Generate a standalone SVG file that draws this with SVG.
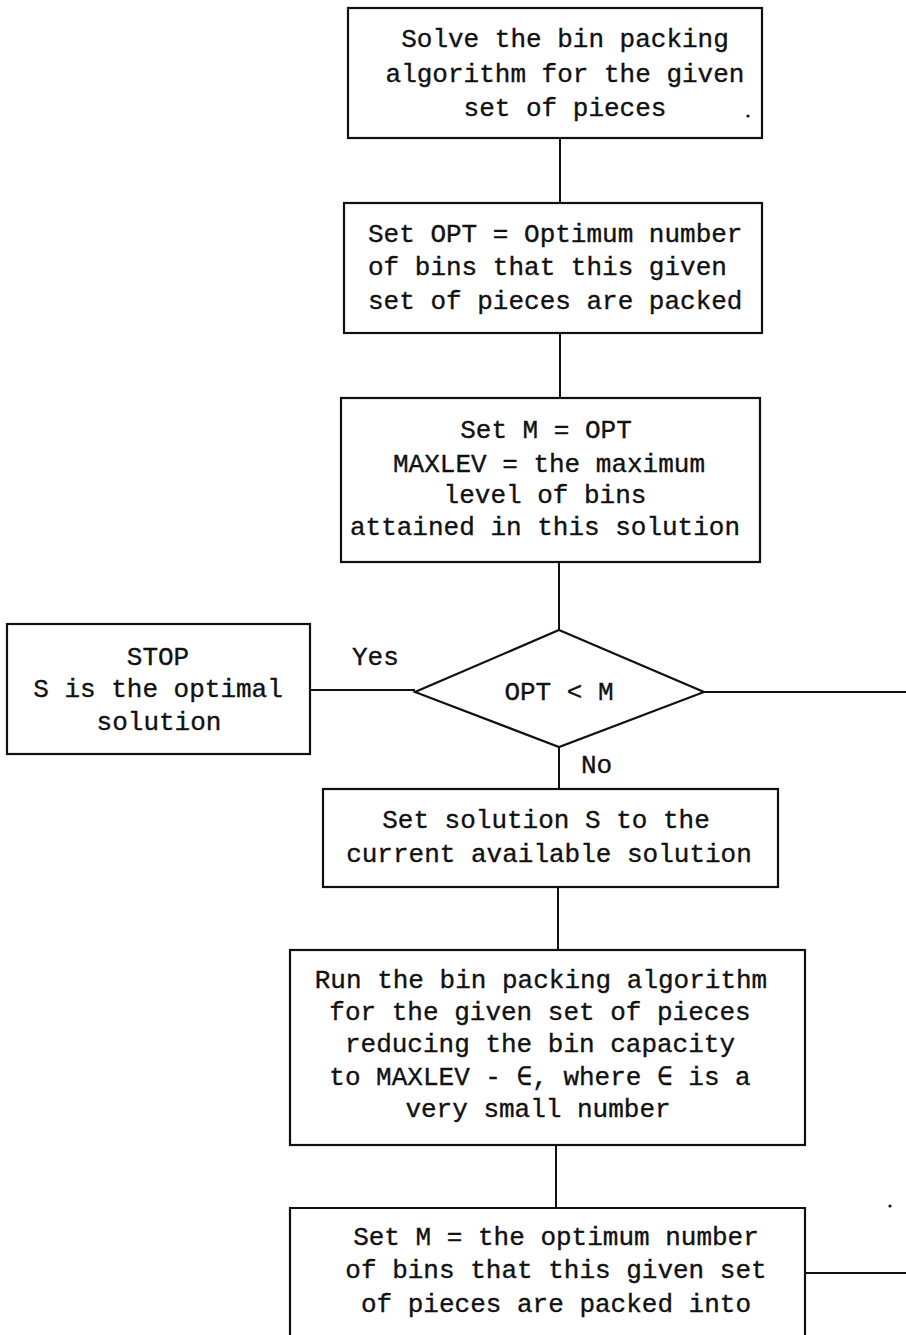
<svg xmlns="http://www.w3.org/2000/svg" width="906" height="1335" viewBox="0 0 906 1335">
  <style>
    .box { fill: none; stroke: #111; stroke-width: 2.2; }
    .wire { fill: none; stroke: #111; stroke-width: 2; }
    text { font-family: "Liberation Mono", "DejaVu Sans Mono", monospace; font-size: 26px; fill: #111; stroke: #111; stroke-width: 0.35; }
    .c { text-anchor: middle; }
  </style>
  <rect width="906" height="1335" fill="#fff"/>

  <!-- connectors -->
  <g id="connectors">
    <line class="wire" x1="560" y1="138" x2="560" y2="203"/>
    <line class="wire" x1="560" y1="333" x2="560" y2="398"/>
    <line class="wire" x1="559" y1="562" x2="559" y2="630"/>
    <line class="wire" x1="310" y1="690" x2="415" y2="690"/>
    <line class="wire" x1="704" y1="692" x2="906" y2="692"/>
    <line class="wire" x1="559" y1="747" x2="559" y2="789"/>
    <line class="wire" x1="558" y1="887" x2="558" y2="950"/>
    <line class="wire" x1="556" y1="1145" x2="556" y2="1208"/>
    <line class="wire" x1="805" y1="1273" x2="906" y2="1273"/>
    <text x="352" y="665">Yes</text>
    <text x="581" y="773">No</text>
  </g>

  <g id="solve">
    <rect class="box" x="348" y="8" width="414" height="130"/>
    <text class="c" x="565" y="47">Solve the bin packing</text>
    <text class="c" x="565" y="82">algorithm for the given</text>
    <text class="c" x="565" y="116">set of pieces</text>
    <circle cx="748" cy="116" r="1.6" fill="#111"/>
  </g>

  <g id="set-opt">
    <rect class="box" x="344" y="203" width="418" height="130"/>
    <text x="368" y="242">Set OPT = Optimum number</text>
    <text x="368" y="275">of bins that this given</text>
    <text x="368" y="309">set of pieces are packed</text>
  </g>

  <g id="set-m">
    <rect class="box" x="341" y="398" width="419" height="164"/>
    <text class="c" x="546" y="438">Set M = OPT</text>
    <text class="c" x="549" y="472">MAXLEV = the maximum</text>
    <text class="c" x="545" y="503">level of bins</text>
    <text class="c" x="545" y="535">attained in this solution</text>
  </g>

  <g id="decision">
    <polygon class="box" points="559,630 704,692 559,747 415,692"/>
    <text class="c" x="559" y="700">OPT &lt; M</text>
  </g>

  <g id="stop">
    <rect class="box" x="7" y="624" width="303" height="130"/>
    <text class="c" x="158" y="665">STOP</text>
    <text class="c" x="158" y="697">S is the optimal</text>
    <text class="c" x="159" y="730">solution</text>
  </g>

  <g id="set-solution">
    <rect class="box" x="323" y="789" width="455" height="98"/>
    <text class="c" x="546" y="828">Set solution S to the</text>
    <text class="c" x="549" y="862">current available solution</text>
  </g>

  <g id="rerun">
    <rect class="box" x="290" y="950" width="515" height="195"/>
    <text class="c" x="541" y="988">Run the bin packing algorithm</text>
    <text class="c" x="540" y="1020">for the given set of pieces</text>
    <text class="c" x="540" y="1052">reducing the bin capacity</text>
    <text class="c" x="540" y="1085">to MAXLEV - ∈, where ∈ is a</text>
    <text class="c" x="538" y="1117">very small number</text>
  </g>

  <g id="update-m">
    <path class="box" d="M290,1340 V1208 H805 V1340"/>
    <text class="c" x="556" y="1245">Set M = the optimum number</text>
    <text class="c" x="556" y="1278">of bins that this given set</text>
    <text class="c" x="556" y="1312">of pieces are packed into</text>
  </g>

  <circle cx="890" cy="1206" r="1.6" fill="#111"/>
</svg>
